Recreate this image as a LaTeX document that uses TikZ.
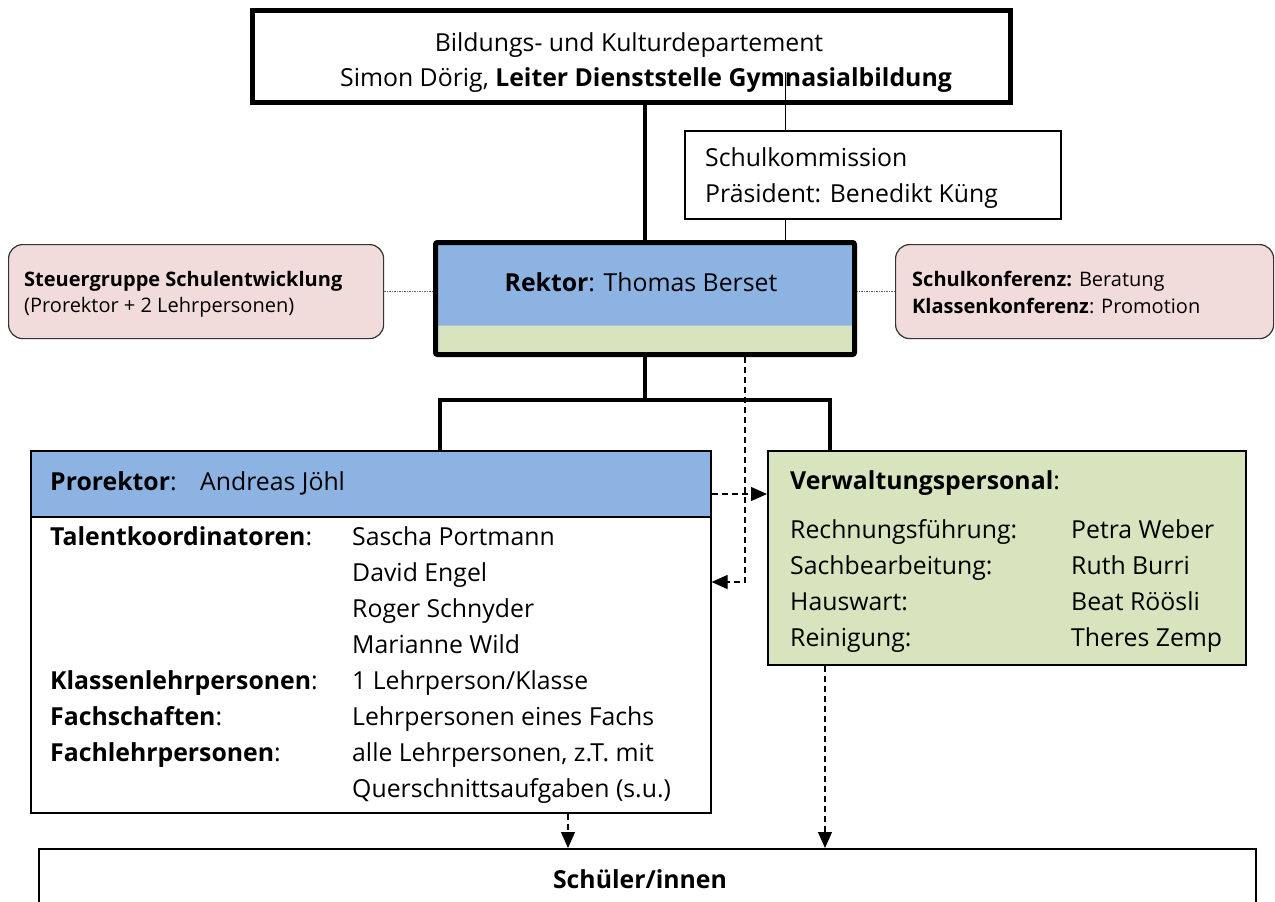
\documentclass[tikz,border=0pt]{standalone}
\usepackage{fontspec}
\setmainfont{Open Sans}
\usetikzlibrary{arrows.meta}

\definecolor{rektorblau}{HTML}{8DB3E2}
\definecolor{verwgruen}{HTML}{D7E4BD}
\definecolor{gremienrosa}{HTML}{F2DCDB}

\tikzset{
  fett/.style={draw=black, line width=4.5pt},
  duenn/.style={draw=black, line width=1.6pt},
  gremium/.style={draw=black!80, line width=1.2pt, fill=gremienrosa, rounded corners=14pt},
  pfeil/.style={draw=black, line width=1.2pt, dash pattern=on 6pt off 4pt, -{Triangle[length=16pt,width=14pt]}},
  punkt/.style={draw=black!60, line width=1.2pt, dash pattern=on 1.5pt off 1pt},
  verbindung/.style={draw=black, line width=1pt},
  txt/.style={font=\fontsize{24.8}{34}\selectfont, inner sep=0pt, anchor=base west},
  klein/.style={font=\fontsize{20}{26}\selectfont, inner sep=0pt, anchor=base west},
}

\begin{document}
\begin{tikzpicture}[x=1pt,y=-1pt]
    \useasboundingbox (0,0) rectangle (1275,902);
    \clip (0,0) rectangle (1275,902);

    % Departement und Schulkommission
    \node[fett, anchor=north west, minimum width=758, minimum height=92] (dept) at (250,8) {};
    \node[txt, anchor=base] (dept1) at (629,51) {Bildungs- und Kulturdepartement};
    \node[txt, anchor=base] (dept2) at (646,86) {Simon Dörig, \textbf{Leiter Dienststelle Gymnasialbildung}};

    \node[duenn, fill=white, anchor=north west, minimum width=376, minimum height=88] (komm) at (684,130) {};
    \node[txt] (komm1) at (705,166) {Schulkommission};
    \node[txt] (komm2) at (705,202) {Präsident: Benedikt Küng};

    % Rektor
    \node[fett, line width=5pt, rounded corners=2pt, anchor=north west, minimum width=419, minimum height=112,
          fill=verwgruen, path picture={\fill[rektorblau] (path picture bounding box.north west)
          rectangle ([yshift=29pt]path picture bounding box.south east);}] (rektor) at (433,240) {};
    \node[txt, anchor=base] (rektortext) at (641,291) {\textbf{Rektor}: Thomas Berset};

    % Gremien links und rechts
    \node[gremium, anchor=north west, minimum width=375, minimum height=94] (steuer) at (8,244) {};
    \node[klein] (steuer1) at (24,286) {\textbf{Steuergruppe Schulentwicklung}};
    \node[klein] (steuer2) at (24,312) {(Prorektor + 2 Lehrpersonen)};

    \node[gremium, anchor=north west, minimum width=378, minimum height=94] (konf) at (895,244) {};
    \node[klein] (konf1) at (912,286) {\textbf{Schulkonferenz:} Beratung};
    \node[klein] (konf2) at (912,313) {\textbf{Klassenkonferenz}: Promotion};

    % Prorektor
    \node[duenn, anchor=north west, minimum width=680, minimum height=362,
          path picture={\fill[rektorblau] (path picture bounding box.north west)
          rectangle ([yshift=-67pt]path picture bounding box.north east);}] (prorektor) at (30,450) {};
    \draw[duenn] ([yshift=-67pt]prorektor.north west) -- ([yshift=-67pt]prorektor.north east);
    \node[txt] (pro1) at (50,490) {\textbf{Prorektor}:};
    \node[txt] (pro2) at (200,490) {Andreas Jöhl};
    \foreach \lbl/\wert [count=\i] in {{\textbf{Talentkoordinatoren}:}/{Sascha Portmann}, {}/{David Engel},
        {}/{Roger Schnyder}, {}/{Marianne Wild}, {\textbf{Klassenlehrpersonen}:}/{1 Lehrperson/Klasse},
        {\textbf{Fachschaften}:}/{Lehrpersonen eines Fachs}, {\textbf{Fachlehrpersonen}:}/{alle Lehrpersonen, z.T. mit},
        {}/{Querschnittsaufgaben (s.u.)}} {
        \node[txt] (pl\i) at (50,509+36*\i) {\lbl};
        \node[txt] (pw\i) at (352,509+36*\i) {\wert};
    }

    % Verwaltung
    \node[duenn, fill=verwgruen, anchor=north west, minimum width=478, minimum height=214] (verwaltung) at (767,450) {};
    \node[txt] (verw0) at (790,489) {\textbf{Verwaltungspersonal}:};
    \foreach \lbl/\wert [count=\i] in {Rechnungsführung:/Petra Weber, Sachbearbeitung:/Ruth Burri,
        Hauswart:/Beat Röösli, Reinigung:/Theres Zemp} {
        \node[txt] (vl\i) at (790,502+36*\i) {\lbl};
        \node[txt] (vw\i) at (1071,502+36*\i) {\wert};
    }

    % Schueler
    \node[duenn, anchor=north west, minimum width=1217, minimum height=80] (schueler) at (38,848) {};
    \node[txt, anchor=base] (schuelertext) at (640,888) {\textbf{Schüler/innen}};

    % Linien
    \draw[fett] (rektor.north |- dept.south) -- (rektor.north);
    \coordinate (kx) at ([xshift=101pt]komm.north west);
    \draw[verbindung] (kx) -- ++(0,-58);
    \draw[verbindung] (kx |- komm.south) -- (kx |- rektor.north);
    \draw[punkt] (steuer.east) -- (steuer.east -| rektor.west);
    \draw[punkt] (konf.west) -- (konf.west -| rektor.east);

    \coordinate (gabel) at ([yshift=-43pt]rektor.south);
    \draw[fett] (rektor.south) -- (gabel);
    \draw[fett] ([xshift=410pt]prorektor.north west) |- (gabel) -| ([xshift=63pt]verwaltung.north west);

    % gestrichelte Pfeile
    \coordinate (rab) at ([xshift=312pt]rektor.south west);
    \draw[pfeil] (rab) |- (prorektor.east |- 0,582);
    \draw[pfeil] (prorektor.east |- 0,494) -- (verwaltung.west |- 0,494);
    \coordinate (pab) at ([xshift=538pt]prorektor.south west);
    \coordinate (vab) at ([xshift=58pt]verwaltung.south west);
    \draw[pfeil] (pab) -- (pab |- schueler.north);
    \draw[pfeil] (vab) -- (vab |- schueler.north);
\end{tikzpicture}
\end{document}
